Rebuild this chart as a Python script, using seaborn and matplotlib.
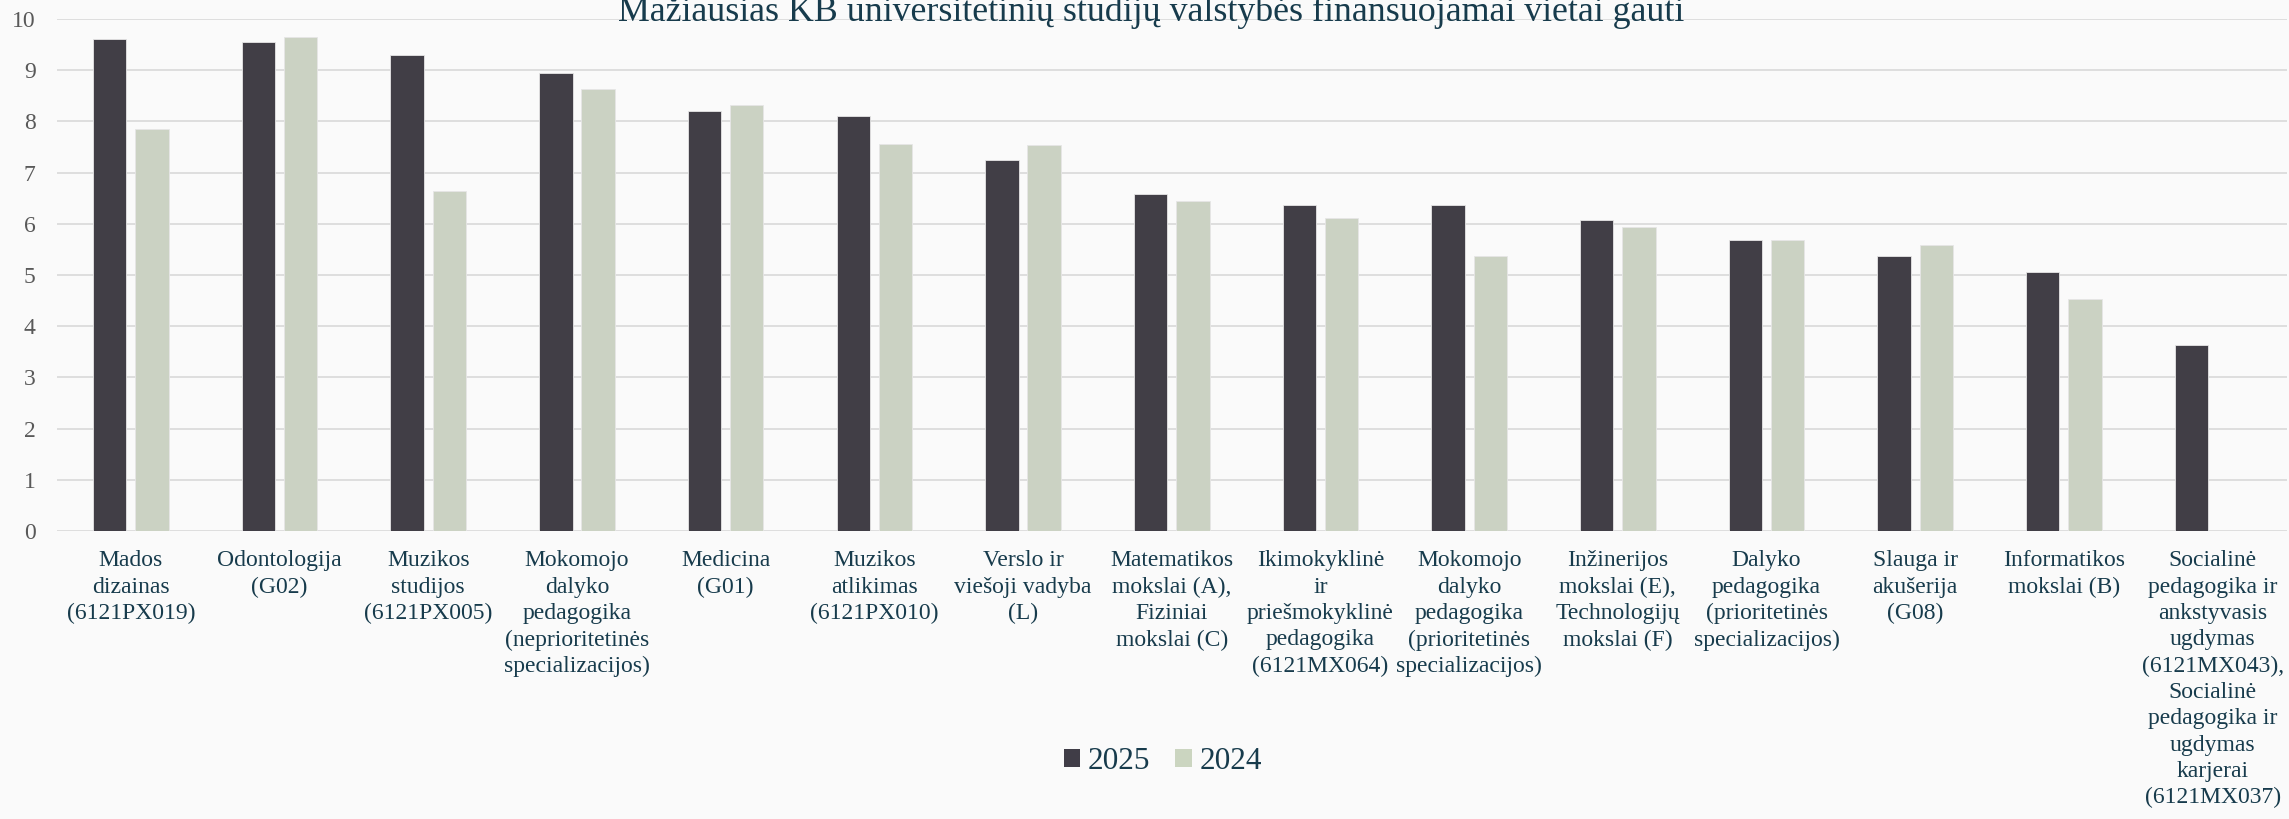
import numpy as np
import pandas as pd
import matplotlib
matplotlib.use("Agg")
import matplotlib.pyplot as plt
from matplotlib.patches import Patch
import seaborn as sns

# data
kategorijos = [
    "Mados\ndizainas\n(6121PX019)",
    "Odontologija\n(G02)",
    "Muzikos\nstudijos\n(6121PX005)",
    "Mokomojo\ndalyko\npedagogika\n(neprioritetinės\nspecializacijos)",
    "Medicina\n(G01)",
    "Muzikos\natlikimas\n(6121PX010)",
    "Verslo ir\nviešoji vadyba\n(L)",
    "Matematikos\nmokslai (A),\nFiziniai\nmokslai (C)",
    "Ikimokyklinė\nir\npriešmokyklinė\npedagogika\n(6121MX064)",
    "Mokomojo\ndalyko\npedagogika\n(prioritetinės\nspecializacijos)",
    "Inžinerijos\nmokslai (E),\nTechnologijų\nmokslai (F)",
    "Dalyko\npedagogika\n(prioritetinės\nspecializacijos)",
    "Slauga ir\nakušerija\n(G08)",
    "Informatikos\nmokslai (B)",
    "Socialinė\npedagogika ir\nankstyvasis\nugdymas\n(6121MX043),\nSocialinė\npedagogika ir\nugdymas\nkarjerai\n(6121MX037)",
]
kb_2025 = [9.60, 9.55, 9.30, 8.95, 8.21, 8.10, 7.25, 6.58, 6.37, 6.36, 6.07, 5.68, 5.37, 5.06, 3.64]
kb_2024 = [7.86, 9.64, 6.64, 8.63, 8.33, 7.56, 7.54, 6.44, 6.11, 5.38, 5.94, 5.69, 5.59, 4.53, np.nan]
metai = ["2025", "2024"]
spalvos = ["#403D47", "#CBD5C0"]
y_ticks = list(range(0, 11))

df = pd.DataFrame({
    "kategorija": kategorijos * 2,
    "metai": ["2025"] * len(kategorijos) + ["2024"] * len(kategorijos),
    "balas": kb_2025 + kb_2024,
})

sns.set_theme(style="white")
plt.rcParams["font.family"] = ["Liberation Serif", "DejaVu Serif"]

bg = "#FAFAFA"
text_col = "#173B4C"

fig = plt.figure(figsize=(22.89, 8.19), dpi=100, facecolor=bg)
ax = fig.add_axes([0.0247, 0.3516, 0.9744, 0.6252], facecolor=bg)

sns.barplot(data=df, x="kategorija", y="balas", hue="metai", hue_order=metai,
            palette=spalvos, width=0.568, gap=0.21, edgecolor="#E6E6E6",
            linewidth=0.6, ax=ax, legend=False, zorder=3)

ax.set_xlim(-0.5, len(kategorijos) - 0.5)
ax.set_ylim(0, 10)
ax.set_yticks(y_ticks)
ax.yaxis.grid(True, color="#D9D9D9", linewidth=1.2, zorder=0)
ax.set_axisbelow(True)
for s in ax.spines.values():
    s.set_visible(False)
ax.set_xlabel("")
ax.set_ylabel("")
ax.tick_params(axis="y", length=0, pad=15, labelsize=17, labelcolor="#595959")
ax.tick_params(axis="x", length=0, pad=14, labelsize=17, labelcolor=text_col)
for lbl in ax.get_xticklabels():
    lbl.set_linespacing(1.33)

fig.text(0.503, 1 - 21 / 819, "Mažiausias KB universitetinių studijų valstybės finansuojamai vietai gauti",
         ha="center", va="baseline", fontsize=25.8, color=text_col)

handles = [Patch(facecolor=c, edgecolor="none", label=m) for c, m in zip(spalvos, metai)]
fig.legend(handles=handles, loc="center", bbox_to_anchor=(0.508, 0.07), ncol=2,
           frameon=False, fontsize=22.5, labelcolor=text_col,
           handlelength=0.52, handleheight=0.52, handletextpad=0.25, columnspacing=0.8)

fig.savefig("out.png", dpi=100, facecolor=bg)
